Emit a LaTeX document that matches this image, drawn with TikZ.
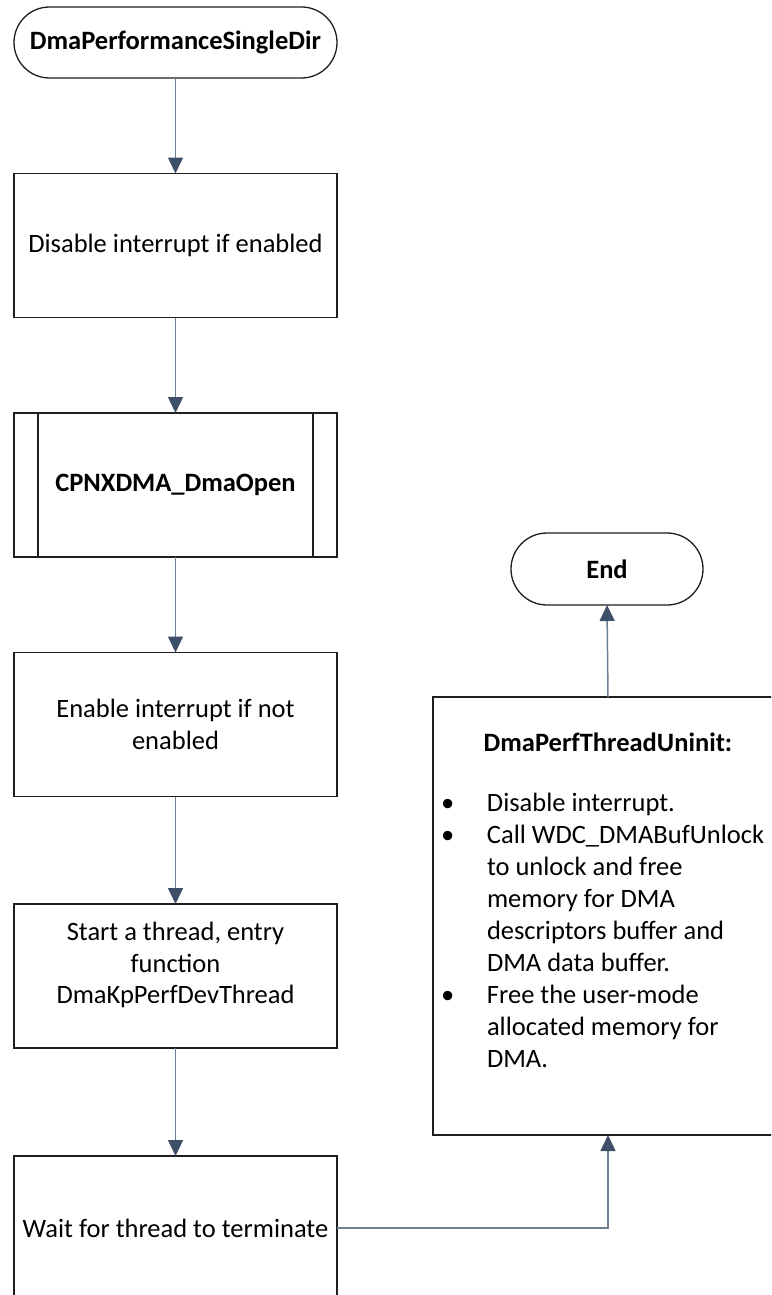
\documentclass[tikz,border=0pt]{standalone}
\usepackage{fontspec}
\setmainfont{Carlito}
\usetikzlibrary{arrows.meta}
\definecolor{linkline}{RGB}{110,126,145}
\definecolor{linkhead}{RGB}{62,80,104}
\definecolor{edge}{RGB}{30,30,30}
\tikzset{
  every node/.style={inner sep=0pt, outer sep=0pt},
  basefont/.style={font=\fontsize{26.5}{31.5}\selectfont},
  boldfont/.style={font=\fontsize{26.5}{31.5}\selectfont\bfseries},
  procbox/.style={draw=edge, line width=1.3pt, fill=white, align=center,
    minimum width=323pt, minimum height=144pt, basefont},
  terminal/.style={draw=edge, line width=1.3pt, fill=white, align=center,
    rounded corners=35.5pt, minimum height=71pt, boldfont},
  flow/.style={draw=linkline, line width=1.5pt,
    -{Triangle[width=15pt,length=16pt,color=linkhead]}},
}
\begin{document}
\begin{tikzpicture}[x=1pt, y=-1pt]
\useasboundingbox (0,0) rectangle (771,1295);
\clip (0,0) rectangle (771,1295);

% main column
\node[terminal, minimum width=323pt] (start) at (175.5,42.5) {DmaPerformanceSingleDir};
\node[procbox] (disable) at (175.5,245.5) {Disable interrupt if enabled};
\node[procbox, boldfont] (open) at (175.5,485) {CPNXDMA\_DmaOpen};
\draw[edge, line width=1.3pt] ([xshift=24pt]open.north west) -- ([xshift=24pt]open.south west)
  ([xshift=-24pt]open.north east) -- ([xshift=-24pt]open.south east);
\node[procbox] (enable) at (175.5,724.5) {Enable interrupt if not\\enabled};
\node[procbox] (thread) at (175.5,976) {Start a thread, entry\\function\\DmaKpPerfDevThread\\[-6pt]\mbox{}};
\node[procbox] (wait) at (175.5,1228) {Wait for thread to terminate};

% right column
\node[terminal, minimum width=192pt, rounded corners=36pt, minimum height=72pt] (end) at (607,569) {End};
\node[draw=edge, line width=1.3pt, fill=white, minimum width=350pt, minimum height=438pt] (uninit) at (608,916) {};
\node[boldfont] (uninitTitle) at (608,742) {DmaPerfThreadUninit:};
\node[anchor=north west, font=\fontsize{26.5}{32}\selectfont] (uninitList) at (438,789) {%
  \begin{tabular}{@{}p{49pt}@{}l@{}}
  \hspace{3pt}\textbullet & Disable interrupt.\\
  \hspace{3pt}\textbullet & Call WDC\_DMABufUnlock\\
   & to unlock and free\\
   & memory for DMA\\
   & descriptors buffer and\\
   & DMA data buffer.\\
  \hspace{3pt}\textbullet & Free the user-mode\\
   & allocated memory for\\
   & DMA.
  \end{tabular}};

% connectors
\draw[flow] (start) -- (disable);
\draw[flow] (disable) -- (open);
\draw[flow] (open) -- (enable);
\draw[flow] (enable) -- (thread);
\draw[flow] (thread) -- (wait);
\draw[flow] (wait.east) -| (uninit.south);
\draw[flow] (uninit.north) -- (end.south);
\end{tikzpicture}
\end{document}
